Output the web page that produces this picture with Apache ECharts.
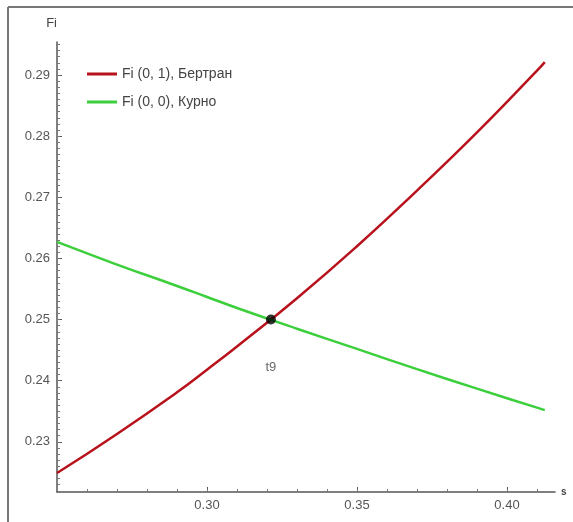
<!DOCTYPE html>
<html>
<head>
<meta charset="utf-8">
<script src="https://cdn.jsdelivr.net/npm/echarts@6/dist/echarts.min.js"></script>
<style>
  html, body { margin: 0; padding: 0; background: #fff; }
  #main { width: 573px; height: 522px; }
</style>
</head>
<body>
<div id="main"></div>
<script>
// значения
var xValues = [0.25, 0.27, 0.29, 0.30, 0.31, 0.33, 0.35, 0.37, 0.39, 0.41, 0.4126];
var bertrand = [0.2249, 0.2313, 0.2381, 0.2418, 0.2456, 0.2535, 0.2620, 0.2711, 0.2806, 0.2907, 0.2921];
var cournot = [0.2627, 0.2590, 0.2555, 0.2537, 0.2519, 0.2485, 0.2452, 0.2419, 0.2387, 0.2356, 0.2352];
var crossPoint = [0.3213, 0.25];
var xTicks = [0.30, 0.35, 0.40];
var yTicks = [0.23, 0.24, 0.25, 0.26, 0.27, 0.28, 0.29];

var xMinor = [];
for (var i = 26; i <= 41; i++) xMinor.push(i / 100);
var yMinor = [];
for (var j = 222; j <= 295; j++) yMinor.push(j / 1000);

var xMin = 0.25, xMax = 0.416, yMin = 0.2218, yMax = 0.2954;

var axisColor = '#555';
var labelStyle = { color: '#555', fontFamily: 'Liberation Sans, Arial', fontSize: 13 };

var myChart = echarts.init(document.getElementById('main'));
myChart.setOption({
  animation: false,
  backgroundColor: '#fff',
  grid: { left: 57, right: 18, top: 42, bottom: 30 },
  graphic: [
    { type: 'line', shape: { x1: 8, y1: 7, x2: 8, y2: 522 }, style: { stroke: '#777', lineWidth: 2 } },
    { type: 'line', shape: { x1: 8, y1: 7, x2: 573, y2: 7 }, style: { stroke: '#777', lineWidth: 2 } }
  ],
  legend: {
    orient: 'vertical',
    left: 82,
    top: 62,
    itemGap: 14,
    itemWidth: 30,
    itemHeight: 3,
    icon: 'rect',
    textStyle: { color: '#444', fontFamily: 'Liberation Sans, Arial', fontSize: 14 },
    data: ['Fi (0, 1), Бертран', 'Fi (0, 0), Курно']
  },
  xAxis: [{
    type: 'value', min: xMin, max: xMax,
    name: 's', nameGap: 6,
    nameTextStyle: { color: '#444', fontSize: 10, fontWeight: 'bold' },
    axisLine: { lineStyle: { color: axisColor, width: 1.5 } },
    axisTick: { inside: true, length: 5, customValues: xTicks, lineStyle: { color: axisColor } },
    axisLabel: { customValues: xTicks, formatter: function (v) { return v.toFixed(2); }, margin: 7, ...labelStyle },
    splitLine: { show: false }
  }, {
    type: 'value', min: xMin, max: xMax, position: 'bottom',
    axisLine: { show: false },
    axisTick: { inside: true, length: 3, customValues: xMinor, lineStyle: { color: '#777' } },
    axisLabel: { show: false },
    splitLine: { show: false }
  }],
  yAxis: [{
    type: 'value', min: yMin, max: yMax,
    name: 'Fi', nameGap: 12,
    nameTextStyle: { color: '#444', fontSize: 13, align: 'right' },
    axisLine: { lineStyle: { color: axisColor, width: 1.5 } },
    axisTick: { inside: true, length: 5, customValues: yTicks, lineStyle: { color: axisColor } },
    axisLabel: { customValues: yTicks, formatter: function (v) { return v.toFixed(2); }, margin: 7, ...labelStyle },
    splitLine: { show: false }
  }, {
    type: 'value', min: yMin, max: yMax, position: 'left',
    axisLine: { show: false },
    axisTick: { inside: true, length: 3, customValues: yMinor, lineStyle: { color: '#777' } },
    axisLabel: { show: false },
    splitLine: { show: false }
  }],
  series: [{
    name: 'Fi (0, 1), Бертран',
    type: 'line',
    smooth: true,
    showSymbol: false,
    color: '#b8121c',
    lineStyle: { width: 2.5 },
    data: xValues.map(function (x, k) { return [x, bertrand[k]]; })
  }, {
    name: 'Fi (0, 0), Курно',
    type: 'line',
    smooth: true,
    showSymbol: false,
    color: '#3ccf3c',
    lineStyle: { width: 2.5 },
    data: xValues.map(function (x, k) { return [x, cournot[k]]; })
  }, {
    name: 't9',
    type: 'scatter',
    symbolSize: 10,
    itemStyle: { color: '#000' },
    label: {
      show: true, position: 'bottom', distance: 36,
      formatter: 't9', color: '#444', fontSize: 13, fontFamily: 'Liberation Sans, Arial'
    },
    data: [crossPoint],
    z: 5
  }]
});
</script>
</body>
</html>
